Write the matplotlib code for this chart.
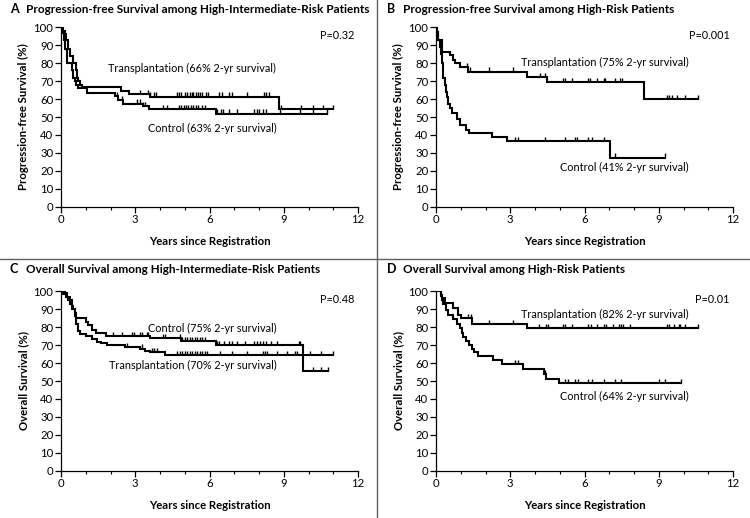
import matplotlib
matplotlib.use("Agg")
import matplotlib.pyplot as plt
import numpy as np

plt.rcParams['font.family'] = ['Lato', 'DejaVu Sans']

# ---- data (years, % surviving) ----
# A: progression-free, high-intermediate risk
a_tx_t = [0, 0.08, 0.15, 0.22, 0.3, 0.38, 0.47, 0.6, 0.65, 0.7, 0.75, 0.85, 2.43, 2.75, 3.6, 8.79]
a_tx_s = [100, 98, 96, 93, 88, 84, 80, 76, 72, 70, 68, 66.5, 64.5, 62.7, 61.4, 54.5]
a_tx_end = 11.0
a_tx_cens = [3.2, 3.5, 3.6, 3.75, 3.85, 4.7, 4.75, 4.85, 5.0, 5.1, 5.2, 5.3, 5.35, 5.45, 5.55,
             5.6, 5.7, 5.85, 5.95, 6.4, 6.5, 6.8, 6.9, 7.5, 8.2, 8.3, 8.4, 8.9, 9.7, 10.2, 10.6, 11.0]
a_ct_t = [0, 0.05, 0.12, 0.18, 0.23, 0.43, 0.48, 0.55, 0.62, 0.7, 1.05, 2.2, 2.3, 2.5, 3.3, 3.55, 6.27]
a_ct_s = [100, 97, 93, 88, 80, 76, 72, 70, 68, 66, 63.3, 61.5, 59.5, 57.5, 56.2, 54.5, 51.8]
a_ct_end = 10.75
a_ct_cens = [2.28, 2.45, 3.06, 3.2, 3.3, 3.4, 4.14, 4.27, 4.75, 4.85, 4.95, 5.05, 5.15, 5.25, 5.35,
             5.45, 5.55, 5.7, 5.8, 6.3, 6.45, 6.55, 6.8, 7.1, 7.8, 7.9, 8.0, 8.15, 8.3, 8.85, 9.67, 10.2, 10.75]

# B: progression-free, high risk
b_tx_t = [0, 0.05, 0.1, 0.25, 0.57, 0.7, 0.77, 0.95, 1.3, 3.67, 4.48, 8.39]
b_tx_s = [100, 97.6, 93, 86.4, 84.5, 82, 80, 77.7, 75.2, 72.4, 69.6, 59.8]
b_tx_end = 10.58
b_tx_cens = [1.27, 1.38, 2.16, 3.1, 4.2, 4.4, 5.12, 5.22, 5.49, 6.16, 6.23, 6.5, 6.77, 6.84,
             7.24, 7.44, 7.51, 9.33, 9.4, 9.53, 9.73, 10.07, 10.58]
b_ct_t = [0, 0.05, 0.1, 0.15, 0.2, 0.23, 0.27, 0.3, 0.35, 0.4, 0.45, 0.5, 0.55, 0.65, 0.85,
          0.95, 1.2, 1.35, 2.25, 2.85, 7.05]
b_ct_s = [100, 97, 93, 89, 85, 80, 75, 72, 68, 64, 61, 57, 54.8, 52, 49, 45.4, 43, 41, 39, 36.5, 27.3]
b_ct_end = 9.26
b_ct_cens = [3.2, 3.3, 4.4, 5.22, 5.6, 5.69, 6.16, 6.3, 6.77, 7.24, 9.26]

# C: overall, high-intermediate risk
c_tx_t = [0, 0.1, 0.2, 0.3, 0.38, 0.45, 0.55, 0.62, 0.68, 0.75, 1.0, 1.25, 1.45, 1.6, 1.85,
          2.6, 3.2, 3.4, 3.6, 4.2]
c_tx_s = [100, 98.5, 97, 95, 93, 90, 86, 82, 78, 76, 75, 73.5, 72, 71, 70, 69, 68, 67, 66, 64.6]
c_tx_end = 10.97
c_tx_cens = [2.66, 3.26, 3.66, 3.76, 3.86, 4.7, 4.8, 4.9, 5.0, 5.1, 5.2, 5.3, 5.4, 5.5, 5.6,
             5.7, 5.8, 5.9, 6.43, 6.9, 7.5, 8.18, 8.25, 8.32, 8.72, 9.13, 9.46, 9.53, 10.07,
             10.5, 10.97]
c_ct_t = [0, 0.15, 0.25, 0.35, 0.45, 0.5, 0.55, 0.62, 1.0, 1.1, 1.25, 1.4, 1.8, 3.6, 4.85, 6.27, 9.76]
c_ct_s = [100, 99, 97, 95, 92, 90, 88, 85, 83, 81, 78.5, 76.5, 75.1, 73.8, 72.1, 69.9, 55.4]
c_ct_end = 10.8
c_ct_cens = [2.12, 2.45, 2.86, 2.93, 3.2, 3.26, 3.46, 3.53, 4.14, 4.2, 4.81, 4.88, 5.0, 5.1,
             5.2, 5.3, 5.4, 5.5, 5.6, 5.7, 5.82, 6.3, 6.4, 6.6, 6.8, 6.9, 7.1, 7.44, 7.78, 7.9,
             8.05, 8.18, 8.3, 8.5, 8.72, 9.6, 9.67, 10.2, 10.5, 10.8]

# D: overall, high risk
d_tx_t = [0, 0.2, 0.25, 0.35, 0.7, 0.9, 1.0, 1.45, 3.67]
d_tx_s = [100, 98, 96, 93.3, 90.9, 86.8, 84.9, 81.7, 79.3]
d_tx_end = 10.58
d_tx_cens = [1.28, 1.42, 2.14, 3.13, 4.18, 4.44, 4.52, 5.15, 5.22, 5.49, 6.16, 6.27, 6.5,
             6.77, 6.86, 7.17, 7.38, 7.48, 7.54, 7.85, 9.33, 9.4, 9.6, 9.8, 9.87, 10.07, 10.58]
d_ct_t = [0, 0.2, 0.25, 0.3, 0.4, 0.5, 0.7, 0.85, 0.95, 1.05, 1.1, 1.2, 1.35, 1.45, 1.55,
          1.7, 2.3, 2.65, 3.5, 4.35, 4.45, 4.95]
d_ct_s = [100, 97.5, 95, 93, 89.5, 86.8, 84.5, 82, 79.5, 77, 74.5, 72.5, 70, 68, 66, 63.8,
          61.5, 59.2, 56.7, 54, 51.3, 48.8]
d_ct_end = 9.91
d_ct_cens = [3.2, 3.3, 4.4, 5.22, 5.33, 5.6, 5.73, 6.16, 6.3, 6.77, 7.24, 7.48, 9.0, 9.24, 9.91]

panels = [
    dict(letter="A", title="Progression-free Survival among High-Intermediate-Risk Patients",
         ylabel="Progression-free Survival (%)", p="P=0.32",
         curves=[(a_tx_t, a_tx_s, a_tx_end, a_tx_cens), (a_ct_t, a_ct_s, a_ct_end, a_ct_cens)],
         labels=[("Transplantation (66% 2-yr survival)", 8.7, 77), ("Control (63% 2-yr survival)", 8.7, 43.5)]),
    dict(letter="B", title="Progression-free Survival among High-Risk Patients",
         ylabel="Progression-free Survival (%)", p="P=0.001",
         curves=[(b_tx_t, b_tx_s, b_tx_end, b_tx_cens), (b_ct_t, b_ct_s, b_ct_end, b_ct_cens)],
         labels=[("Transplantation (75% 2-yr survival)", 10.2, 80.5), ("Control (41% 2-yr survival)", 10.2, 22)]),
    dict(letter="C", title="Overall Survival among High-Intermediate-Risk Patients",
         ylabel="Overall Survival (%)", p="P=0.48",
         curves=[(c_tx_t, c_tx_s, c_tx_end, c_tx_cens), (c_ct_t, c_ct_s, c_ct_end, c_ct_cens)],
         labels=[("Transplantation (70% 2-yr survival)", 8.7, 58.5), ("Control (75% 2-yr survival)", 8.7, 79.5)]),
    dict(letter="D", title="Overall Survival among High-Risk Patients",
         ylabel="Overall Survival (%)", p="P=0.01",
         curves=[(d_tx_t, d_tx_s, d_tx_end, d_tx_cens), (d_ct_t, d_ct_s, d_ct_end, d_ct_cens)],
         labels=[("Transplantation (82% 2-yr survival)", 10.2, 87), ("Control (64% 2-yr survival)", 10.2, 41.5)]),
]

W, H = 750, 518
fig = plt.figure(figsize=(7.5, 5.18), dpi=100)

# axes boxes in pixels: left, top(=100%), right(=12 yr), bottom(=0%)
boxes = [(61, 27.3, 358, 206.7), (436, 27.3, 733, 206.7),
         (61, 291.3, 358, 470.7), (436, 291.3, 733, 470.7)]
title_xy = [(10, 13), (387, 13), (10, 273), (387, 273)]


def surv_at(t, times, surv):
    i = np.searchsorted(times, t, side="right") - 1
    return np.asarray(surv)[i]


for pnl, (l, t, r, b), (tx, ty) in zip(panels, boxes, title_xy):
    ax = fig.add_axes([l / W, 1 - b / H, (r - l) / W, (b - t) / H])
    for times, surv, end, cens in pnl["curves"]:
        xs = list(times) + [end]
        ys = list(surv) + [surv[-1]]
        ax.step(xs, ys, where="post", color="black", lw=1.5, solid_joinstyle="miter")
        cs = surv_at(np.array(cens), np.array(times), surv)
        ax.vlines(cens, cs, cs + 2.4, color="black", lw=1.0)
    ax.set_xlim(0, 12)
    ax.set_ylim(0, 100)
    ax.set_xticks([0, 3, 6, 9, 12])
    ax.set_xticks(np.arange(0, 13), minor=True)
    ax.set_yticks(np.arange(0, 101, 10))
    for s in ["top", "right"]:
        ax.spines[s].set_visible(False)
    for s in ["left", "bottom"]:
        ax.spines[s].set_linewidth(0.9)
    ax.tick_params(axis="both", which="major", direction="out", length=4, width=0.9,
                   labelsize=8.2, pad=1.5)
    ax.tick_params(axis="x", which="minor", direction="out", length=2.5, width=0.8)
    ax.set_xlabel("Years since Registration", fontsize=8.2, fontweight="bold", labelpad=8)
    ax.set_ylabel(pnl["ylabel"], fontsize=8.2, fontweight="bold", labelpad=3)
    ax.text(11.85, 95.5, pnl["p"], ha="right", va="center", fontsize=7.8)
    for txt, x, y in pnl["labels"]:
        ax.text(x, y, txt, ha="right", va="center", fontsize=7.8)
    fig.text(tx / W, 1 - ty / H, pnl["letter"], fontsize=9, fontweight="bold", va="baseline")
    fig.text((tx + 16) / W, 1 - ty / H, pnl["title"], fontsize=8.5, fontweight="bold", va="baseline")

# panel dividers
fig.add_artist(plt.Line2D([376.5 / W, 376.5 / W], [0, 1], color="#606060", lw=1.0))
fig.add_artist(plt.Line2D([0, 1], [1 - 258.5 / H, 1 - 258.5 / H], color="#606060", lw=1.0))

fig.savefig("out.png", dpi=100)
